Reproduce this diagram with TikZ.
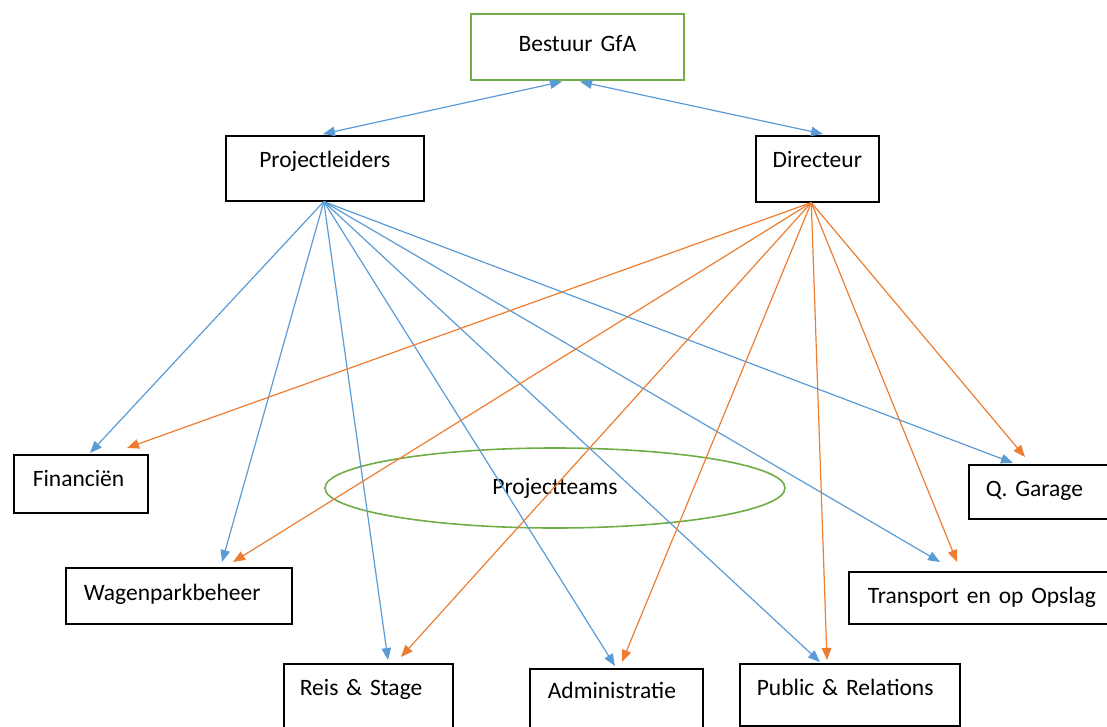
\documentclass[tikz,border=0pt]{standalone}
\usepackage{fontspec}
\setmainfont{Carlito}
\usetikzlibrary{shapes.geometric,arrows.meta}
\definecolor{arrblue}{RGB}{91,155,213}
\definecolor{arrorange}{RGB}{237,125,49}
\definecolor{boxgreen}{RGB}{112,173,71}
\DeclareRobustCommand{\diagfont}{\fontsize{23.5}{28}\selectfont\spaceskip=4.3pt\relax}
\begin{document}
\begin{tikzpicture}[x=1pt,y=-1pt,
  font=\diagfont,
  box/.style={draw=black, line width=1.6pt, anchor=north west, inner ysep=0pt, align=left, fill=white},
  tip/.style={-{Triangle[length=12pt,width=9.5pt]}},
  bluearr/.style={draw=arrblue, line width=1.2pt, tip},
  orangearr/.style={draw=arrorange, line width=1.2pt, tip},
  dblarr/.style={draw=arrblue, line width=1.2pt, {Triangle[length=12pt,width=9.5pt]}-{Triangle[length=12pt,width=9.5pt]}}]
\useasboundingbox (0,0) rectangle (1107,727);
\clip (0,0) rectangle (1107,727);

% nodes
\node[box, draw=boxgreen, align=center, inner xsep=10pt, text width=193pt, text height=37.5pt, text depth=28.5pt] (bs) at (470,13) {Bestuur GfA};
\node[box, align=center, inner xsep=10pt, text width=178pt, text height=31.5pt, text depth=33.5pt] (pl) at (225,135) {Projectleiders};
\node[box, align=center, inner xsep=5pt, text width=113pt, text height=31.5pt, text depth=34.5pt] (dr) at (755,135) {Directeur};
\node[box, inner xsep=19pt, text width=96pt, text height=31.5pt, text depth=26.5pt] (fin) at (13,454) {Financiën};
\node[box, inner xsep=18pt, text width=190pt, text height=32.5pt, text depth=23.5pt] (wag) at (65,567) {Wagenparkbeheer};
\node[box, inner xsep=16pt, text width=137pt, text height=31.5pt, text depth=40pt] (reis) at (283,663) {Reis \& Stage};
\node[box, inner xsep=18pt, text width=137pt, text height=29.5pt, text depth=40pt] (adm) at (529,668) {Administratie};
\node[box, inner xsep=17pt, text width=186pt, text height=31.5pt, text depth=30.5pt] (pub) at (739,663) {Public \& Relations};
\node[box, inner xsep=17pt, text width=126pt, text height=31.5pt, text depth=22.5pt] (qg) at (968,464) {Q.\ Garage};
\node[box, inner xsep=19pt, text width=242pt, text height=31.5pt, text depth=20.5pt] (tra) at (848,571) {Transport en op Opslag};
\node[ellipse, draw=boxgreen, line width=1.6pt, minimum width=460pt, minimum height=80pt, inner sep=0pt] (pt) at (555,488) {Projectteams};

% Bestuur connectors
\draw[dblarr] ([xshift=92pt,yshift=-1pt]bs.south west) -- ([xshift=98pt,yshift=1pt]pl.north west);
\draw[dblarr] ([xshift=110pt,yshift=-1pt]bs.south west) -- ([xshift=68pt,yshift=1pt]dr.north west);

% Projectleiders connectors
\draw[bluearr] ([xshift=-1pt]pl.south) -- ([xshift=77pt,yshift=1pt]fin.north west);
\draw[bluearr] ([xshift=-1pt]pl.south) -- ([xshift=157pt,yshift=5pt]wag.north west);
\draw[bluearr] ([xshift=-1pt]pl.south) -- ([xshift=105pt,yshift=3pt]reis.north west);
\draw[bluearr] ([xshift=-1pt]pl.south) -- ([xshift=86pt,yshift=2pt]adm.north west);
\draw[bluearr] ([xshift=-1pt]pl.south) -- ([xshift=81pt,yshift=1pt]pub.north west);
\draw[bluearr] ([xshift=-1pt]pl.south) -- ([xshift=92pt,yshift=9pt]tra.north west);
\draw[bluearr] ([xshift=-1pt]pl.south) -- ([xshift=45pt,yshift=1pt]qg.north west);

% Directeur connectors
\draw[orangearr] ([xshift=-6pt]dr.south) -- ([xshift=114pt,yshift=6pt]fin.north west);
\draw[orangearr] ([xshift=-6pt]dr.south) -- ([xshift=168pt,yshift=5pt]wag.north west);
\draw[orangearr] ([xshift=-6pt]dr.south) -- ([xshift=118pt,yshift=6pt]reis.north west);
\draw[orangearr] ([xshift=-6pt]dr.south) -- ([xshift=93pt,yshift=6pt]adm.north west);
\draw[orangearr] ([xshift=-6pt]dr.south) -- ([xshift=88pt,yshift=3pt]pub.north west);
\draw[orangearr] ([xshift=-6pt]dr.south) -- ([xshift=109pt,yshift=9pt]tra.north west);
\draw[orangearr] ([xshift=-6pt]dr.south) -- ([xshift=57pt,yshift=7pt]qg.north west);
\end{tikzpicture}
\end{document}
